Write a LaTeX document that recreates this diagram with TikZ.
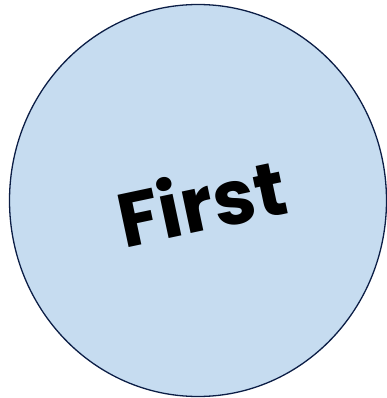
\documentclass[tikz,border=0pt]{standalone}
\usepackage{fontspec}
\setmainfont{Poppins}
\usetikzlibrary{shapes.geometric}
\definecolor{circfill}{RGB}{198,220,240}
\definecolor{circline}{RGB}{12,30,70}
\begin{document}
\begin{tikzpicture}[x=1pt,y=-1pt,
  blob/.style={ellipse, draw=circline, fill=circfill, line width=1.3pt, minimum width=377pt, minimum height=392pt, inner sep=0pt},
  lbl/.style={font=\fontsize{76}{90}\selectfont\bfseries, text=black, rotate=12, inner sep=0pt}]
\useasboundingbox (0,0) rectangle (387,398);
\node[blob] (c) at (198,200.5) {};
\node[lbl] (t) at (201,201) {First};
\end{tikzpicture}
\end{document}
